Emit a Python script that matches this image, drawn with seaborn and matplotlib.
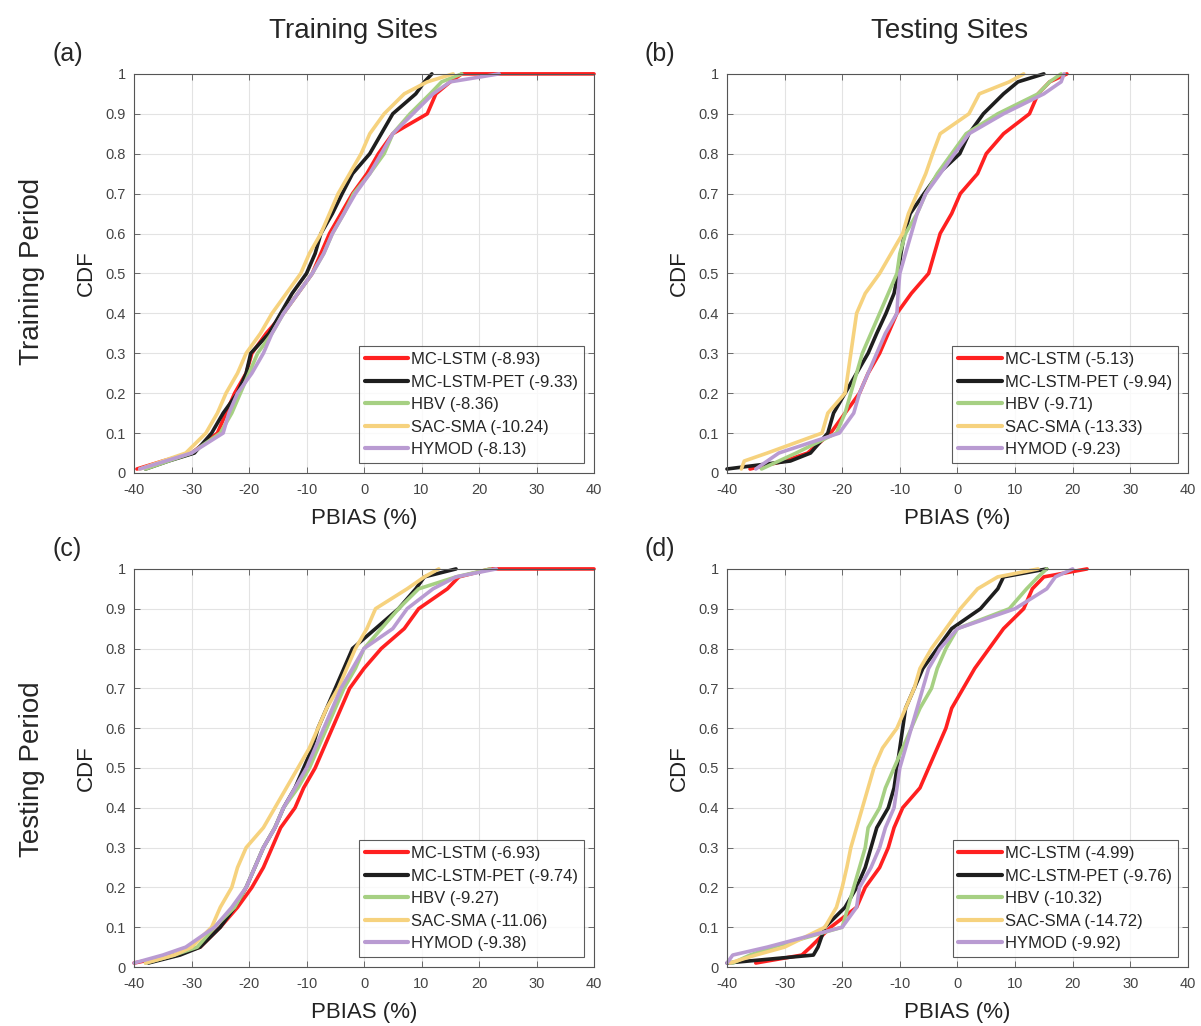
import numpy as np
import pandas as pd
import seaborn as sns
import matplotlib.pyplot as plt

# CDF levels shared by every curve (last entry repeats 1.0 for the tail)
levels = [0.01, 0.03, 0.05, 0.1, 0.15, 0.2, 0.25, 0.3, 0.35, 0.4, 0.45, 0.5,
          0.55, 0.6, 0.65, 0.7, 0.75, 0.8, 0.85, 0.9, 0.95, 0.98, 1.0, 1.0]

models = ["MC-LSTM", "MC-LSTM-PET", "HBV", "SAC-SMA", "HYMOD"]
colors = ["#ff2020", "#1e1e1e", "#a6d083", "#f6d27e", "#b99bd2"]

# (a) training period, training sites -- PBIAS (%) at each CDF level
red_a = [-39.5, -35, -30, -25.5, -24, -22.5, -20.5, -19.5, -17, -14, -11.5, -9,
         -7.5, -6, -4, -2, 0.5, 2.5, 5, 11, 12.5, 15, 17, 40]
black_a = [-38, -34, -29.5, -26.5, -24.5, -22, -20.5, -19.7, -16.5, -14.5, -12.5, -10,
           -8.5, -7.5, -5.5, -3.8, -2, 1, 3, 5, 9, 10.5, 11.8, 11.8]
green_a = [-38, -34, -30, -25, -23, -21.5, -20, -18.5, -16, -14, -11.5, -9,
           -7, -5.5, -3.5, -1.8, 1, 3.5, 5, 8, 11.5, 13.5, 17, 17]
yellow_a = [-39, -35, -31, -27.5, -25.5, -24, -22, -20.5, -18, -16, -13.5, -11,
            -9.5, -7.5, -6, -4.5, -2.5, -0.5, 1, 3.5, 7, 11, 15.5, 15.5]
purple_a = [-39, -34.5, -30, -24.5, -23.5, -22, -19.5, -17.5, -16, -14, -11.5, -9,
            -7, -5.5, -3.5, -1.5, 1, 3, 5, 8.5, 12, 15, 23.5, 23.5]

# (b) training period, testing sites
red_b = [-36, -30, -26, -22, -19.5, -17, -15.5, -13.5, -12, -10.5, -8, -5,
         -4, -3, -1, 0.5, 3.5, 5, 8, 12.5, 14, 16, 19, 19]
black_b = [-40, -29, -25.5, -22.5, -21.5, -19.5, -17.5, -15.5, -14, -12.4, -11, -10.3,
           -9.8, -9.2, -8.2, -5.8, -3.3, 0.4, 2, 4.5, 8, 10.5, 15, 15]
green_b = [-34, -31, -28, -21, -19.5, -18.5, -17.5, -16.5, -15, -13.5, -12, -10.5,
           -10, -9, -7, -5.5, -3.5, -1, 1.5, 7, 14, 16, 18, 18]
yellow_b = [-37.5, -37, -33, -23.5, -22.5, -19.5, -19, -18.5, -18, -17.5, -16, -13.5,
            -11.5, -9.5, -8.5, -7, -5.5, -4.3, -3, 2, 3.8, 9, 11.5, 11.5]
purple_b = [-35, -33, -31, -20.5, -18, -17, -15.5, -14, -12.5, -10.5, -10.3, -10,
            -9, -8, -7, -5.5, -3, -0.5, 2, 8, 15, 18, 18.5, 18.5]

# (c) testing period, training sites
red_c = [-40, -33, -28.5, -25, -22, -19.5, -17.5, -16, -14.5, -12, -10.5, -8.5,
         -7, -5.5, -4, -2.5, 0, 3, 7, 9.5, 14.5, 16.5, 22, 40]
black_c = [-37.5, -32, -28.5, -25, -22.5, -20.5, -19, -17.5, -15.5, -14, -12, -10.5,
           -9, -8, -6.5, -5, -3.5, -2, 2, 6, 9, 10.5, 16, 16]
green_c = [-38, -33, -29, -26, -22.5, -20.5, -19, -17.5, -15.5, -14, -11.5, -9.5,
           -8, -6.5, -5, -3.5, -1.5, 0, 3, 6, 9.5, 16, 22, 22]
yellow_c = [-38, -33, -30, -26.5, -25, -23, -22, -20.5, -17.5, -15.5, -13.5, -11.5,
            -9.5, -8, -6.5, -4.5, -3, -1.5, 0.5, 2, 7.5, 10.5, 13, 13]
purple_c = [-40, -35, -31, -26, -23, -20.5, -19, -17.5, -15.5, -14, -12, -10,
            -8.5, -7, -5.5, -4, -2, 0, 5, 7.5, 12, 16, 23, 23]

# (d) testing period, testing sites
red_d = [-35, -27, -25.5, -22, -17.5, -16, -13.5, -12, -11, -9.5, -6.5, -5,
         -3.5, -2, -1, 1, 3, 5.5, 8, 11.5, 13, 15, 22.5, 22.5]
black_d = [-40, -25, -24.2, -23, -19.5, -17.5, -16, -15, -14, -12, -11, -10.5,
           -10, -9.5, -9, -7.5, -6, -3.5, -1, 4, 7, 8, 15.5, 15.5]
green_d = [-39, -36, -32, -20, -19, -18, -17, -16, -15.5, -13.5, -12.5, -11,
           -9.5, -8, -6.5, -4.5, -3.5, -2, 0, 9, 12, 14, 15.5, 15.5]
yellow_d = [-39.5, -35, -30, -23, -21, -20, -19.2, -18.5, -17.5, -16.5, -15.5, -14.5,
            -13, -10.5, -9, -7.5, -6.5, -4.5, -2, 0.5, 3.5, 7, 14, 14]
purple_d = [-40, -39, -33, -20, -17.5, -17, -15, -13.5, -12.5, -11, -10.5, -10,
            -9, -8, -7, -6, -5, -3, 0, 10, 15.5, 17, 20, 20]

# mean PBIAS shown in the legends
means_a = [-8.93, -9.33, -8.36, -10.24, -8.13]
means_b = [-5.13, -9.94, -9.71, -13.33, -9.23]
means_c = [-6.93, -9.74, -9.27, -11.06, -9.38]
means_d = [-4.99, -9.76, -10.32, -14.72, -9.92]

panels = [
    ("(a)", [red_a, black_a, green_a, yellow_a, purple_a], means_a),
    ("(b)", [red_b, black_b, green_b, yellow_b, purple_b], means_b),
    ("(c)", [red_c, black_c, green_c, yellow_c, purple_c], means_c),
    ("(d)", [red_d, black_d, green_d, yellow_d, purple_d], means_d),
]

sns.set_theme(style="ticks")
plt.rcParams['font.family'] = ['Liberation Sans', 'DejaVu Sans']
plt.rcParams['axes.unicode_minus'] = False

fig = plt.figure(figsize=(12.01, 10.26), dpi=100)

# axes boxes in figure fractions
boxes = [
    [0.1116, 0.5390, 0.3830, 0.3890],
    [0.6053, 0.5390, 0.3838, 0.3890],
    [0.1116, 0.0575, 0.3830, 0.3880],
    [0.6053, 0.0575, 0.3838, 0.3880],
]

for (tag, curves, means), box in zip(panels, boxes):
    ax = fig.add_axes(box)
    rows = []
    for m, xs, mu in zip(models, curves, means):
        lab = f"{m} ({mu:.2f})"
        for x, y in zip(xs, levels):
            rows.append({"PBIAS": x, "CDF": y, "Model": lab})
    df = pd.DataFrame(rows)
    labs = list(dict.fromkeys(df["Model"]))
    sns.lineplot(data=df, x="PBIAS", y="CDF", hue="Model", hue_order=labs,
                 palette=dict(zip(labs, colors)), sort=False, estimator=None,
                 linewidth=2.6, ax=ax, clip_on=False)
    ax.set_xlim(-40, 40)
    ax.set_ylim(0, 1)
    ax.set_xticks(np.arange(-40, 41, 10))
    ax.set_yticks(np.arange(0, 1.01, 0.1))
    ax.set_yticklabels(["0"] + [f"{v:.1f}" for v in np.arange(0.1, 0.95, 0.1)] + ["1"])
    ax.grid(True, color="#e3e3e3", linewidth=0.8)
    ax.tick_params(direction="in", top=True, right=True, length=4,
                   labelsize=10.5, colors="#555555", labelcolor="#444444", width=0.6)
    ax.tick_params(axis="x", pad=7)
    ax.tick_params(axis="y", pad=6)
    for s in ax.spines.values():
        s.set_color("#555555")
        s.set_linewidth(0.8)
    ax.set_xlabel("PBIAS (%)", fontsize=16, color="#222222", labelpad=8)
    ax.set_ylabel("CDF", fontsize=16, color="#222222", labelpad=6)
    leg = ax.legend(loc="lower right", fontsize=12, frameon=True, fancybox=False,
                    edgecolor="#333333", handlelength=2.6, handletextpad=0.2,
                    borderpad=0.35, labelspacing=0.45, borderaxespad=0.6)
    leg.get_frame().set_linewidth(0.8)
    for line in leg.get_lines():
        line.set_linewidth(3)
    ax.text(-0.145, 1.05, tag, transform=ax.transAxes, fontsize=18,
            ha="center", va="center")

fig.text(0.294, 0.970, "Training Sites", fontsize=20, ha="center", va="center")
fig.text(0.791, 0.970, "Testing Sites", fontsize=20, ha="center", va="center")
fig.text(0.027, 0.735, "Training Period", fontsize=20, rotation=90,
         ha="center", va="center")
fig.text(0.027, 0.250, "Testing Period", fontsize=20, rotation=90,
         ha="center", va="center")

fig.savefig("out.png", dpi=100, facecolor="white")
